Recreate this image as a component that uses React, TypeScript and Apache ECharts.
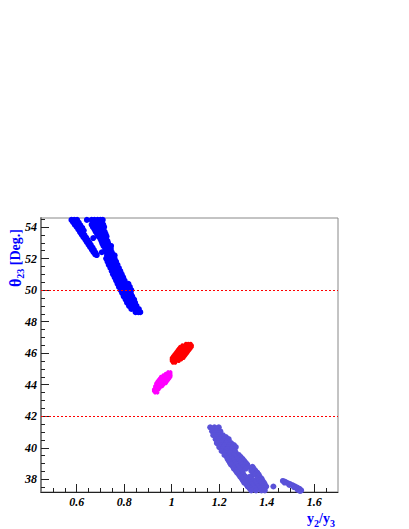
import React, { useEffect, useRef } from "react";
import * as echarts from "echarts";

// ---------- data ----------
const blueLeftBand: number[][] = [
  [0.578, 54.45], [0.59, 54.45], [0.602, 54.45], [0.585, 54.3], [0.597, 54.3], [0.609, 54.28],
  [0.592, 54.15], [0.604, 54.13], [0.616, 54.1], [0.6, 54.0], [0.612, 53.97], [0.624, 53.94],
  [0.607, 53.84], [0.619, 53.8], [0.63, 53.77], [0.614, 53.68], [0.626, 53.64], [0.621, 53.52],
  [0.633, 53.48], [0.628, 53.36], [0.64, 53.33], [0.636, 53.2], [0.647, 53.17], [0.643, 53.04],
  [0.654, 53.01], [0.65, 52.88], [0.66, 52.85], [0.657, 52.72], [0.667, 52.69], [0.664, 52.56],
  [0.673, 52.53], [0.671, 52.4], [0.679, 52.37], [0.678, 52.26], [0.685, 52.22], [0.643, 54.45],
];

const blueMainBand: number[][] = [
  [0.663, 54.45], [0.675, 54.45], [0.688, 54.45], [0.7, 54.45], [0.71, 54.45],
  [0.668, 54.3], [0.68, 54.3], [0.693, 54.3], [0.705, 54.3],
  [0.663, 54.15], [0.675, 54.15], [0.688, 54.15], [0.7, 54.15], [0.712, 54.15],
  [0.668, 54.0], [0.68, 54.0], [0.693, 54.0], [0.706, 54.0], [0.716, 54.0],
  [0.675, 53.85], [0.688, 53.85], [0.7, 53.85], [0.712, 53.85],
  [0.68, 53.7], [0.693, 53.7], [0.705, 53.7], [0.718, 53.7],
  [0.686, 53.55], [0.698, 53.55], [0.71, 53.55], [0.722, 53.55],
  [0.692, 53.4], [0.704, 53.4], [0.716, 53.4], [0.726, 53.4],
  [0.67, 53.3], [0.7, 53.25], [0.712, 53.25], [0.724, 53.25],
  [0.705, 53.1], [0.717, 53.1], [0.73, 53.1],
  [0.708, 52.95], [0.72, 52.95], [0.733, 52.95],
  [0.713, 52.8], [0.725, 52.8], [0.737, 52.8], [0.745, 52.8],
  [0.72, 52.6], [0.732, 52.6], [0.744, 52.6],
  [0.706, 52.4], [0.724, 52.4], [0.736, 52.4], [0.748, 52.4],
  [0.728, 52.2], [0.74, 52.2], [0.752, 52.2], [0.76, 52.2],
  [0.724, 52.0], [0.736, 52.0], [0.748, 52.0], [0.76, 52.0],
  [0.73, 51.8], [0.742, 51.8], [0.754, 51.8], [0.766, 51.8],
  [0.735, 51.6], [0.747, 51.6], [0.76, 51.6], [0.772, 51.6],
  [0.742, 51.4], [0.754, 51.4], [0.766, 51.4], [0.778, 51.4],
  [0.748, 51.2], [0.76, 51.2], [0.772, 51.2], [0.784, 51.2],
  [0.753, 51.0], [0.765, 51.0], [0.778, 51.0], [0.79, 51.0],
  [0.76, 50.8], [0.772, 50.8], [0.784, 50.8], [0.796, 50.8],
  [0.766, 50.6], [0.778, 50.6], [0.79, 50.6], [0.802, 50.6],
  [0.772, 50.4], [0.784, 50.4], [0.796, 50.4], [0.808, 50.4], [0.818, 50.4],
  [0.778, 50.2], [0.79, 50.2], [0.802, 50.2], [0.814, 50.2], [0.824, 50.2],
  [0.785, 50.0], [0.797, 50.0], [0.809, 50.0], [0.82, 50.0], [0.83, 50.0],
  [0.792, 49.8], [0.804, 49.8], [0.816, 49.8], [0.828, 49.8],
  [0.798, 49.6], [0.81, 49.6], [0.822, 49.6], [0.834, 49.6],
  [0.806, 49.4], [0.818, 49.4], [0.83, 49.4], [0.842, 49.4],
  [0.812, 49.2], [0.824, 49.2], [0.836, 49.2], [0.846, 49.2],
  [0.82, 49.0], [0.832, 49.0], [0.844, 49.0], [0.852, 49.0],
  [0.83, 48.8], [0.842, 48.8], [0.854, 48.8], [0.862, 48.8],
  [0.848, 48.6], [0.86, 48.6], [0.868, 48.6],
];

const lavenderBand: number[][] = [
  [1.162, 41.3], [1.18, 41.3], [1.198, 41.3],
  [1.172, 41.18], [1.19, 41.18],
  [1.17, 41.05], [1.19, 41.05], [1.205, 41.05],
  [1.18, 40.93], [1.2, 40.93],
  [1.175, 40.8], [1.195, 40.8], [1.215, 40.8],
  [1.188, 40.68], [1.208, 40.68], [1.228, 40.68],
  [1.185, 40.55], [1.2, 40.55], [1.222, 40.55], [1.24, 40.55],
  [1.195, 40.43], [1.215, 40.43], [1.235, 40.43],
  [1.19, 40.3], [1.212, 40.3], [1.23, 40.3], [1.25, 40.3],
  [1.205, 40.18], [1.225, 40.18], [1.245, 40.18], [1.262, 40.18],
  [1.2, 40.05], [1.22, 40.05], [1.238, 40.05], [1.258, 40.05], [1.27, 40.05],
  [1.215, 39.93], [1.235, 39.93], [1.255, 39.93],
  [1.21, 39.8], [1.23, 39.8], [1.25, 39.8], [1.266, 39.8],
  [1.225, 39.68], [1.245, 39.68], [1.27, 39.68],
  [1.222, 39.55], [1.24, 39.55], [1.262, 39.55], [1.282, 39.55],
  [1.232, 39.43], [1.25, 39.43], [1.27, 39.43], [1.29, 39.43],
  [1.235, 39.3], [1.255, 39.3], [1.275, 39.3], [1.298, 39.3],
  [1.24, 39.18], [1.26, 39.18], [1.285, 39.18], [1.305, 39.18],
  [1.245, 39.05], [1.265, 39.05], [1.29, 39.05], [1.312, 39.05],
  [1.25, 38.93], [1.27, 38.93], [1.295, 38.93], [1.318, 38.93],
  [1.258, 38.8], [1.278, 38.8], [1.3, 38.8], [1.322, 38.8], [1.34, 38.8],
  [1.262, 38.68], [1.285, 38.68], [1.312, 38.68], [1.345, 38.68],
  [1.27, 38.55], [1.29, 38.55], [1.335, 38.55], [1.352, 38.55],
  [1.275, 38.43], [1.298, 38.43], [1.342, 38.43], [1.36, 38.43],
  [1.283, 38.3], [1.302, 38.3], [1.35, 38.3], [1.366, 38.3],
  [1.288, 38.18], [1.31, 38.18], [1.33, 38.18], [1.37, 38.18],
  [1.295, 38.05], [1.315, 38.05], [1.335, 38.05], [1.362, 38.05], [1.378, 38.05],
  [1.3, 37.93], [1.322, 37.93], [1.345, 37.93], [1.368, 37.93], [1.382, 37.93],
  [1.305, 37.8], [1.33, 37.8], [1.35, 37.8], [1.372, 37.8], [1.388, 37.8],
  [1.315, 37.68], [1.338, 37.68], [1.358, 37.68], [1.378, 37.68], [1.392, 37.68],
  [1.32, 37.55], [1.342, 37.55], [1.365, 37.55], [1.385, 37.55], [1.398, 37.55], [1.428, 37.55],
  [1.328, 37.43], [1.35, 37.43], [1.372, 37.43], [1.39, 37.43],
  [1.335, 37.3], [1.355, 37.3], [1.378, 37.3], [1.392, 37.3],
];

const lavenderTail: number[][] = [
  [1.468, 37.9], [1.478, 37.84], [1.488, 37.77], [1.498, 37.7], [1.508, 37.63], [1.518, 37.56],
  [1.528, 37.48], [1.538, 37.4], [1.545, 37.3], [1.475, 37.8], [1.495, 37.65], [1.515, 37.5],
  [1.53, 37.35], [1.54, 37.27],
];

const redBlob: number[][] = [
  [1.06, 46.6], [1.07, 46.6], [1.08, 46.6],
  [1.045, 46.5], [1.055, 46.5], [1.065, 46.5], [1.075, 46.5], [1.085, 46.5],
  [1.035, 46.4], [1.045, 46.4], [1.055, 46.4], [1.065, 46.4], [1.075, 46.4], [1.085, 46.4],
  [1.03, 46.3], [1.04, 46.3], [1.05, 46.3], [1.06, 46.3], [1.07, 46.3], [1.08, 46.3],
  [1.025, 46.2], [1.035, 46.2], [1.045, 46.2], [1.055, 46.2], [1.065, 46.2], [1.075, 46.2],
  [1.02, 46.1], [1.03, 46.1], [1.04, 46.1], [1.05, 46.1], [1.06, 46.1], [1.07, 46.1],
  [1.015, 46.0], [1.025, 46.0], [1.035, 46.0], [1.045, 46.0], [1.055, 46.0], [1.065, 46.0],
  [1.01, 45.9], [1.02, 45.9], [1.03, 45.9], [1.04, 45.9], [1.05, 45.9], [1.06, 45.9],
  [1.005, 45.8], [1.015, 45.8], [1.025, 45.8], [1.035, 45.8], [1.045, 45.8], [1.055, 45.8],
  [1.0, 45.7], [1.01, 45.7], [1.02, 45.7], [1.03, 45.7], [1.04, 45.7], [1.05, 45.7],
  [1.0, 45.6], [1.01, 45.6], [1.02, 45.6], [1.03, 45.6], [1.04, 45.6],
  [1.0, 45.5], [1.01, 45.5], [1.02, 45.5], [1.03, 45.5],
  [1.005, 45.4], [1.015, 45.4],
];

const magentaBlob: number[][] = [
  [0.985, 44.8], [0.995, 44.8],
  [0.975, 44.7], [0.985, 44.7], [0.995, 44.7],
  [0.965, 44.6], [0.975, 44.6], [0.985, 44.6], [0.995, 44.6],
  [0.955, 44.5], [0.965, 44.5], [0.975, 44.5], [0.985, 44.5], [0.995, 44.5],
  [0.95, 44.4], [0.96, 44.4], [0.97, 44.4], [0.98, 44.4], [0.99, 44.4],
  [0.945, 44.3], [0.955, 44.3], [0.965, 44.3], [0.975, 44.3], [0.985, 44.3],
  [0.94, 44.2], [0.95, 44.2], [0.96, 44.2], [0.97, 44.2], [0.98, 44.2],
  [0.935, 44.1], [0.945, 44.1], [0.955, 44.1], [0.965, 44.1], [0.975, 44.1],
  [0.935, 44.0], [0.945, 44.0], [0.955, 44.0], [0.965, 44.0],
  [0.93, 43.9], [0.94, 43.9], [0.95, 43.9], [0.96, 43.9],
  [0.93, 43.8], [0.94, 43.8], [0.95, 43.8],
  [0.925, 43.7], [0.935, 43.7], [0.945, 43.7],
  [0.925, 43.6], [0.935, 43.6],
  [0.93, 43.5], [0.94, 43.5],
];

const referenceLines = [50, 42];

const xMajorTicks = [0.6, 0.8, 1, 1.2, 1.4, 1.6];
const xMinorTicks = [0.5, 0.55, 0.65, 0.7, 0.75, 0.85, 0.9, 0.95, 1.05, 1.1, 1.15, 1.25, 1.3, 1.35, 1.45, 1.5, 1.55, 1.65];
const yMajorTicks = [38, 40, 42, 44, 46, 48, 50, 52, 54];
const yMinorTicks = [37.5, 38.5, 39, 39.5, 40.5, 41, 41.5, 42.5, 43, 43.5, 44.5, 45, 45.5, 46.5, 47, 47.5, 48.5, 49, 49.5, 50.5, 51, 51.5, 52.5, 53, 53.5, 54.5];

const X_MIN = 0.45;
const X_MAX = 1.7;
const Y_MIN = 37.2;
const Y_MAX = 54.57;

const labelFont = {
  fontFamily: "Liberation Serif",
  fontWeight: "bold" as const,
  fontStyle: "italic" as const,
  fontSize: 12,
  color: "#000",
};

export default function App() {
  const ref = useRef<HTMLDivElement>(null);

  useEffect(() => {
    document.body.style.margin = "0";
    if (!ref.current) return;
    const chart = echarts.init(ref.current, undefined, { renderer: "svg" });

    const titleRich = {
      a: { fontFamily: "Liberation Serif", fontWeight: "bold", fontSize: 14, lineHeight: 16, fill: "#0000ff" },
      t: { fontFamily: "Liberation Serif", fontWeight: "bold", fontSize: 16, lineHeight: 16, fill: "#0000ff" },
      s: { fontFamily: "Liberation Serif", fontWeight: "bold", fontSize: 10, lineHeight: 10, padding: [10, 0, 0, 0], fill: "#0000ff" },
    };

    chart.setOption({
      animation: false,
      backgroundColor: "#fff",
      grid: {
        left: 41,
        top: 218,
        width: 297,
        height: 274,
        show: true,
        borderColor: "#888",
        borderWidth: 1,
        backgroundColor: "transparent",
      },
      xAxis: [
        {
          type: "value",
          min: X_MIN,
          max: X_MAX,
          position: "bottom",
          splitLine: { show: false },
          axisLine: { show: true, onZero: false, lineStyle: { color: "#222", width: 1 } },
          axisTick: { show: true, inside: true, length: 8, customValues: xMajorTicks, lineStyle: { color: "#222" } },
          axisLabel: { ...labelFont, margin: 4, customValues: xMajorTicks, formatter: (v: number) => String(v) },
        },
        {
          type: "value",
          min: X_MIN,
          max: X_MAX,
          position: "bottom",
          splitLine: { show: false },
          axisLine: { show: false },
          axisTick: { show: true, inside: true, length: 4, customValues: xMinorTicks, lineStyle: { color: "#222" } },
          axisLabel: { show: false },
        },
      ],
      yAxis: [
        {
          type: "value",
          min: Y_MIN,
          max: Y_MAX,
          position: "left",
          splitLine: { show: false },
          axisLine: { show: true, onZero: false, lineStyle: { color: "#808080", width: 2 } },
          axisTick: { show: true, inside: true, length: 8, customValues: yMajorTicks, lineStyle: { color: "#222" } },
          axisLabel: { ...labelFont, margin: 4, customValues: yMajorTicks, formatter: (v: number) => String(v) },
        },
        {
          type: "value",
          min: Y_MIN,
          max: Y_MAX,
          position: "left",
          splitLine: { show: false },
          axisLine: { show: false },
          axisTick: { show: true, inside: true, length: 4, customValues: yMinorTicks, lineStyle: { color: "#222" } },
          axisLabel: { show: false },
        },
      ],
      series: [
        { type: "scatter", data: blueLeftBand, symbolSize: 6, itemStyle: { color: "#0000ff", opacity: 1 } },
        { type: "scatter", data: blueMainBand, symbolSize: 6, itemStyle: { color: "#0000ff", opacity: 1 } },
        { type: "scatter", data: lavenderBand, symbolSize: 6, itemStyle: { color: "#5a52d8", opacity: 1 } },
        { type: "scatter", data: lavenderTail, symbolSize: 6, itemStyle: { color: "#5a52d8", opacity: 1 } },
        { type: "scatter", data: magentaBlob, symbolSize: 4, itemStyle: { color: "#ff00ff", opacity: 1 } },
        { type: "scatter", data: redBlob, symbolSize: 4, itemStyle: { color: "#ff0000", opacity: 1 } },
        {
          type: "line",
          data: [],
          markLine: {
            silent: true,
            symbol: "none",
            label: { show: false },
            lineStyle: { color: "#ff0000", type: [2, 2], width: 1.2 },
            data: referenceLines.map((v) => ({ yAxis: v })),
          },
        },
      ],
      graphic: [
        {
          type: "text",
          x: 15,
          y: 287,
          rotation: Math.PI / 2,
          style: {
            text: "{t|θ}{s|23}{a| [Deg.]}",
            rich: titleRich,
            align: "left",
            verticalAlign: "middle",
          },
        },
        {
          type: "text",
          x: 307,
          y: 518,
          style: {
            text: "{a|y}{s|2}{a|/y}{s|3}",
            rich: titleRich,
            align: "left",
            verticalAlign: "middle",
          },
        },
      ],
    });

    return () => chart.dispose();
  }, []);

  return <div ref={ref} style={{ width: 409, height: 529 }} />;
}
